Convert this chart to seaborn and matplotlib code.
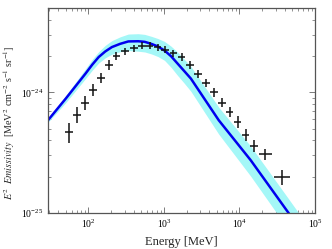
import numpy as np
import pandas as pd
import matplotlib
matplotlib.use("Agg")
import matplotlib.pyplot as plt
import seaborn as sns

# === data ===
# measured emissivity points (MeV, MeV^2 cm^-2 s^-1 sr^-1)
energia = [55.3, 70.4, 89.5, 113.8, 146.6, 188.5, 234.6, 304.7, 399, 513,
           646, 822, 1037, 1331, 1709, 2202, 2826, 3594, 4575, 5820,
           7400, 9414, 12090, 15560, 22070, 36480]
emisividad = [4.70e-25, 6.54e-25, 8.16e-25, 1.052e-24, 1.32e-24, 1.69e-24,
              1.99e-24, 2.18e-24, 2.32e-24, 2.43e-24, 2.44e-24, 2.37e-24,
              2.26e-24, 2.11e-24, 1.96e-24, 1.69e-24, 1.41e-24, 1.19e-24,
              1.005e-24, 8.22e-25, 6.87e-25, 5.65e-25, 4.41e-25, 3.58e-25,
              3.07e-25, 1.97e-25]
# error half widths in dex
err_y_abajo = [0.096, 0.072, 0.055, 0.050, 0.041, 0.039, 0.033, 0.031, 0.030,
               0.029, 0.029, 0.029, 0.030, 0.030, 0.031, 0.031, 0.033, 0.035,
               0.037, 0.040, 0.043, 0.050, 0.050, 0.050, 0.045, 0.065]
err_y_arriba = [0.074, 0.066, 0.055, 0.050, 0.041, 0.039, 0.033, 0.031, 0.030,
                0.029, 0.029, 0.029, 0.030, 0.030, 0.031, 0.031, 0.033, 0.035,
                0.037, 0.040, 0.043, 0.050, 0.050, 0.050, 0.045, 0.065]
err_x = [0.05] * 24 + [0.09, 0.11]

# model curve and its uncertainty band
modelo_e = [29.1, 50.0, 91.4, 111.7, 136.5, 166.7, 204, 261.8, 336.5, 455,
            556, 681, 830, 1016, 1242, 1514, 1854, 2270, 5310, 14060,
            44670, 60800]
modelo_val = [5.87e-25, 8.87e-25, 1.43e-24, 1.69e-24, 1.96e-24, 2.18e-24,
              2.37e-24, 2.52e-24, 2.64e-24, 2.65e-24, 2.62e-24, 2.52e-24,
              2.40e-24, 2.22e-24, 1.99e-24, 1.73e-24, 1.50e-24, 1.30e-24,
              5.87e-25, 2.74e-25, 1.0e-25, 7.6e-26]
banda_alta = [6.10e-25, 9.39e-25, 1.57e-24, 1.87e-24, 2.17e-24, 2.45e-24,
              2.68e-24, 2.88e-24, 3.04e-24, 3.06e-24, 3.02e-24, 2.91e-24,
              2.79e-24, 2.64e-24, 2.41e-24, 2.15e-24, 1.88e-24, 1.64e-24,
              7.52e-25, 3.58e-25, 1.31e-25, 1.0e-25]
banda_baja = [5.65e-25, 8.22e-25, 1.30e-24, 1.52e-24, 1.75e-24, 1.93e-24,
              2.07e-24, 2.17e-24, 2.22e-24, 2.19e-24, 2.16e-24, 2.08e-24,
              1.98e-24, 1.84e-24, 1.61e-24, 1.38e-24, 1.19e-24, 1.02e-24,
              4.50e-25, 2.02e-25, 7.24e-26, 5.4e-26]

ticks_x = [1e2, 1e3, 1e4, 1e5]
ticks_y = [1e-25, 1e-24]


sns.set_style("ticks")
plt.rcParams["font.family"] = ["Liberation Serif", "DejaVu Serif"]
plt.rcParams["mathtext.fontset"] = "stix"
plt.rcParams["xtick.direction"] = "in"
plt.rcParams["ytick.direction"] = "in"

fig = plt.figure(figsize=(3.32, 2.49), dpi=100)
ax = fig.add_axes([0.1446, 0.1446, 0.8042, 0.8234])

df_modelo = pd.DataFrame({"E": modelo_e, "val": modelo_val,
                          "alta": banda_alta, "baja": banda_baja})
ax.fill_between(df_modelo["E"], df_modelo["baja"], df_modelo["alta"],
                color="#a4f7f7", lw=0, zorder=1)
sns.lineplot(data=df_modelo, x="E", y="val", color="#0000ee", lw=1.8,
             ax=ax, zorder=2)

# error bars of the measured points
e = np.array(energia)
v = np.array(emisividad)
xerr = [e - e / 10 ** np.array(err_x), e * 10 ** np.array(err_x) - e]
yerr = [v - v / 10 ** np.array(err_y_abajo), v * 10 ** np.array(err_y_arriba) - v]
ax.errorbar(e, v, xerr=xerr, yerr=yerr, fmt="none", ecolor="#111111",
            elinewidth=1.1, capsize=0, zorder=3)

ax.set_xscale("log")
ax.set_yscale("log")
ax.set_xticks(ticks_x)
ax.set_yticks(ticks_y)
ax.set_xlim(29.1, 1e5)
ax.set_ylim(1e-25, 5e-24)

ax.tick_params(which="both", top=True, right=True, colors="#666666",
               labelcolor="black", labelsize=7)
ax.tick_params(which="major", length=4, width=0.6)
ax.tick_params(which="minor", length=2, width=0.5)
for s in ax.spines.values():
    s.set_color("#555555")
    s.set_linewidth(0.9)

ax.set_xlabel("Energy [MeV]", fontsize=9)
ax.set_ylabel(r"$E^2$  $Emissivity$  [MeV$^2$ cm$^{-2}$ s$^{-1}$ sr$^{-1}$]",
              fontsize=7.3)
ax.yaxis.set_label_coords(-0.115, 0.44)

fig.savefig("out.png", dpi=100)
